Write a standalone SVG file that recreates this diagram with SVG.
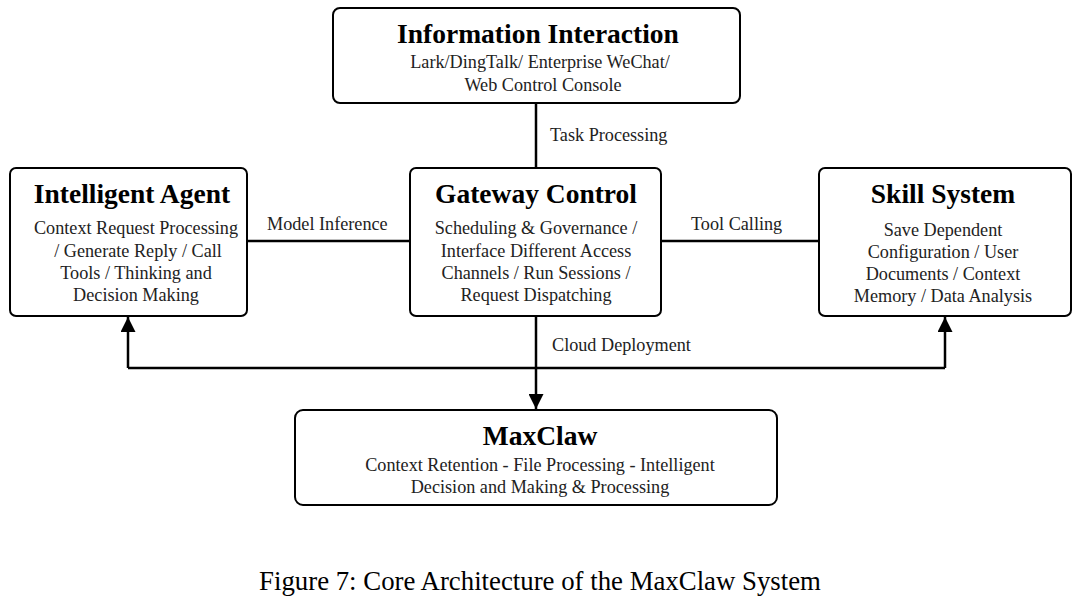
<svg xmlns="http://www.w3.org/2000/svg" width="1080" height="605" viewBox="0 0 1080 605">
<defs>
<marker id="arr" viewBox="0 0 10 10" refX="10" refY="5" markerWidth="6.5" markerHeight="6" markerUnits="strokeWidth" orient="auto">
<path d="M0,0 L10,5 L0,10 Z" fill="#000"/>
</marker>
</defs>
<style>
.box{fill:#fff;stroke:#000;stroke-width:2}
.t{font-family:"Liberation Serif","Times New Roman",serif;font-weight:bold;font-size:27.5px;fill:#000;text-anchor:middle}
.b{font-family:"Liberation Serif","Times New Roman",serif;font-size:18.2px;fill:#222;text-anchor:middle}
.l{font-family:"Liberation Serif","Times New Roman",serif;font-size:18.2px;fill:#222}
.c{stroke:#000;stroke-width:2.5;fill:none}
.cap{font-family:"Liberation Serif","Times New Roman",serif;font-size:26.8px;fill:#000;text-anchor:middle}
</style>
<rect width="1080" height="605" fill="#fff"/>
<g id="connectors">
<line class="c" x1="536" y1="103" x2="536" y2="168"/>
<line class="c" x1="247" y1="241" x2="410" y2="241"/>
<line class="c" x1="661" y1="241" x2="819" y2="241"/>
<line class="c" x1="536" y1="316" x2="536" y2="409" marker-end="url(#arr)"/>
<polyline class="c" points="128,368 945,368"/>
<line class="c" x1="128" y1="368" x2="128" y2="317" marker-end="url(#arr)"/>
<line class="c" x1="945" y1="368" x2="945" y2="317" marker-end="url(#arr)"/>
<text class="l" x="550" y="141">Task Processing</text>
<text class="l" x="267" y="230">Model Inference</text>
<text class="l" x="691" y="230">Tool Calling</text>
<text class="l" x="552" y="351">Cloud Deployment</text>
</g>
<g id="info">
<rect class="box" x="333" y="8" width="407" height="95" rx="7"/>
<text class="t" x="538" y="43">Information Interaction</text>
<text class="b" x="540" y="68">Lark/DingTalk/ Enterprise WeChat/</text>
<text class="b" x="543" y="91">Web Control Console</text>
</g>
<g id="agent">
<rect class="box" x="10" y="168" width="237" height="148" rx="6"/>
<text class="t" x="132" y="203">Intelligent Agent</text>
<text class="b" x="136" y="234">Context Request Processing</text>
<text class="b" x="138" y="257">/ Generate Reply / Call</text>
<text class="b" x="136" y="279">Tools / Thinking and</text>
<text class="b" x="136" y="301">Decision Making</text>
</g>
<g id="gateway">
<rect class="box" x="410" y="168" width="251" height="148" rx="6"/>
<text class="t" x="536" y="203">Gateway Control</text>
<text class="b" x="536" y="234">Scheduling &amp; Governance /</text>
<text class="b" x="536" y="257">Interface Different Access</text>
<text class="b" x="536" y="279">Channels / Run Sessions /</text>
<text class="b" x="536" y="301">Request Dispatching</text>
</g>
<g id="skill">
<rect class="box" x="819" y="168" width="252" height="148" rx="6"/>
<text class="t" x="943" y="203">Skill System</text>
<text class="b" x="943" y="236">Save Dependent</text>
<text class="b" x="943" y="258">Configuration / User</text>
<text class="b" x="943" y="280">Documents / Context</text>
<text class="b" x="943" y="302">Memory / Data Analysis</text>
</g>
<g id="maxclaw">
<rect class="box" x="295" y="410" width="482" height="95" rx="8"/>
<text class="t" x="540" y="445">MaxClaw</text>
<text class="b" x="540" y="471">Context Retention - File Processing - Intelligent</text>
<text class="b" x="540" y="493">Decision and Making &amp; Processing</text>
</g>
<text class="cap" x="540" y="590">Figure 7: Core Architecture of the MaxClaw System</text>
</svg>
